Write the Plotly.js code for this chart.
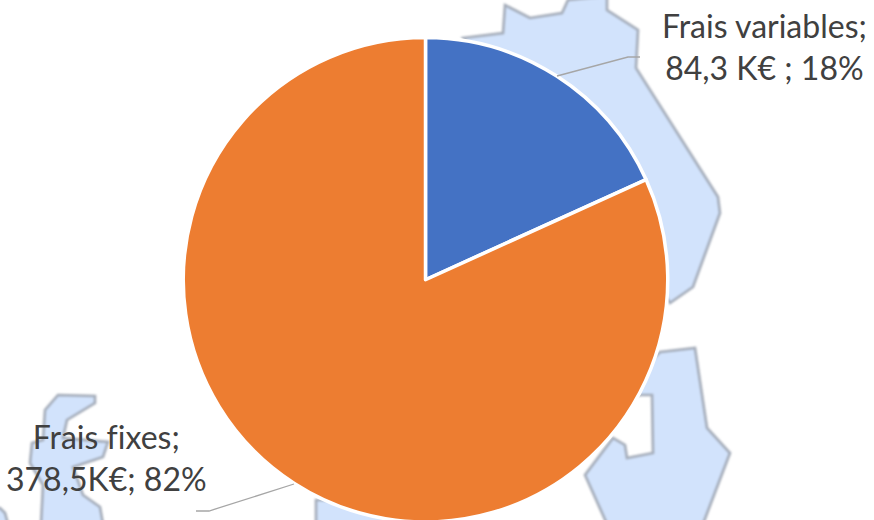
<!DOCTYPE html>
<html><head><meta charset="utf-8">
<script src="https://cdn.plot.ly/plotly-3.0.1.min.js"></script>
<style>html,body{margin:0;padding:0;background:#fff;overflow:hidden;width:874px;height:520px}
svg text,svg text tspan{font-variant-ligatures:none !important;font-feature-settings:"liga" 0,"clig" 0 !important}
.layer-below .shapelayer path{filter:blur(1.1px)}</style>
</head><body><div id="chart"></div>
<script>
const categories = ['Frais variables', 'Frais fixes'];
const values = [84.3, 378.5];
const sliceColors = ['#4472C4', '#ED7D31'];
const labelTexts = ['Frais variables;<br>84,3 K€ ; 18%', 'Frais fixes;<br>378,5K€; 82%'];

// Decorative background map outlines (pixel positions on the page)
const mapNorthEast = [[463,38],[503,33],[505,5],[530,18],[562,13],[568,0],[607,-4],[607,10],[638,30],[636,68],[718,197],[720,213],[693,287],[670,303],[600,200]];
const mapSouthEast = [[660,352],[695,348],[707,428],[730,453],[703,524],[607,524],[585,475],[613,438],[625,445],[627,458],[653,453],[652,395],[640,395],[610,400]];
const mapWest = [[58,395],[95,396],[95,403],[67,420],[63,438],[108,442],[103,457],[73,467],[83,495],[100,507],[103,524],[41,524],[43,485],[30,463],[32,443],[43,440],[45,410]];
const mapCorner = [[-4,508],[0,508],[5,513],[8,524],[-4,524]];
const mapSouth = [[316,500],[316,524],[400,524],[400,500]];

const W = 874, H = 522;
function pathOf(pts, closed){
  return pts.map((p,i)=>(i?'L':'M')+(p[0]/W)+','+(1-p[1]/H)).join(' ')+(closed?' Z':'');
}
const shapes = [];
[mapNorthEast,mapSouthEast,mapWest,mapCorner,mapSouth].forEach(m=>{
  shapes.push({type:'path',xref:'paper',yref:'paper',layer:'below',path:pathOf(m,true),
    fillcolor:'#D2E3FC',line:{color:'#A3ABB8',width:2.6}});
});
const leaderVar = [[557,76],[628,57],[640,57]];
const leaderFix = [[294,484],[209,511],[196,511]];
[leaderVar,leaderFix].forEach(l=>shapes.push({type:'path',xref:'paper',yref:'paper',layer:'above',
  path:pathOf(l,false),line:{color:'#A6A6A6',width:1.3}}));

const labelFont = {family:'Lato, "Open Sans", sans-serif',size:32,color:'#404040'};
const annotations = [
 {text:labelTexts[0],x:764.5/W,y:1-47/H,xref:'paper',yref:'paper',showarrow:false,align:'center',xanchor:'center',yanchor:'middle',font:labelFont},
 {text:labelTexts[1],x:106.5/W,y:1-457.5/H,xref:'paper',yref:'paper',showarrow:false,align:'center',xanchor:'center',yanchor:'middle',font:labelFont}
];
Plotly.newPlot('chart',[{
  type:'pie',labels:categories,values:values,sort:false,direction:'clockwise',rotation:0,
  marker:{colors:sliceColors,line:{color:'#FFFFFF',width:3.5}},
  textinfo:'none',hoverinfo:'label+value+percent',
  domain:{x:[183/W,668/W],y:[1-522/H,1-37.5/H]}
}],{
  width:W,height:H,margin:{l:0,r:0,t:0,b:0},showlegend:false,
  paper_bgcolor:'#fff',plot_bgcolor:'#fff',shapes,annotations
},{displayModeBar:false,staticPlot:true});
</script></body></html>
